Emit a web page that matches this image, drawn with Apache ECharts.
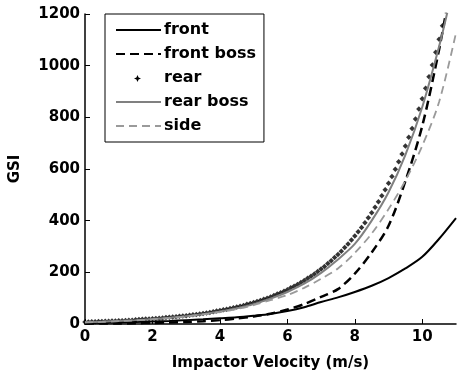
<!DOCTYPE html>
<html>
<head>
<meta charset="utf-8">
<script src="https://cdn.jsdelivr.net/npm/echarts@6/dist/echarts.min.js"></script>
<style>
  html, body { margin: 0; padding: 0; background: #fff; }
  #chart { width: 458px; height: 376px; }
</style>
</head>
<body>
<div id="chart"></div>
<script>
// velocity samples for the line curves (m/s)
const velocity = [0, 0.5, 1, 1.5, 2, 2.5, 3, 3.5, 4, 4.5, 5, 5.5, 6, 6.5, 7, 7.5, 8, 8.5, 9, 9.5, 10, 10.5, 11]
const velocityBoss = [0, 0.5, 1, 1.5, 2, 2.5, 3, 3.5, 4, 4.5, 5, 5.5, 6, 6.5, 7, 7.5, 8, 8.5, 9, 9.5, 10, 10.5, 10.75]

const front = [4, 5, 6, 8, 10, 12, 15, 18, 22, 26, 32, 39, 50, 65, 85, 103, 124, 148, 178, 215, 260, 330, 410]
const frontBoss = [1, 2, 2, 3, 4, 6, 8, 11, 15, 21, 29, 40, 56, 77, 105, 135, 195, 277, 380, 553, 767, 1063, 1240]
const rearBoss = [7, 9, 12, 15, 19, 24, 30, 38, 48, 61, 77, 98, 124, 156, 198, 250, 310, 400, 510, 655, 840, 1075, 1210]
const side = [6, 8, 11, 14, 18, 23, 29, 37, 46, 58, 73, 92, 112, 140, 175, 215, 275, 350, 445, 555, 690, 860, 1127]

// rear is drawn as dots, one every 0.1 m/s from 0 up to 10.6
const rearStep = 0.1
const rear = [
  8, 8, 9, 9, 10, 10, 11, 11, 12, 12,
  13, 13, 14, 15, 15, 16, 17, 18, 19, 19,
  20, 21, 22, 23, 25, 26, 27, 28, 30, 31,
  32, 34, 36, 37, 39, 41, 43, 45, 47, 50,
  52, 55, 57, 60, 63, 66, 69, 72, 76, 79,
  83, 87, 91, 96, 100, 105, 110, 116, 121, 127,
  133, 140, 146, 153, 161, 168, 177, 185, 194, 203,
  213, 223, 234, 245, 257, 269, 282, 296, 310, 325,
  341, 357, 374, 392, 411, 431, 452, 473, 496, 520,
  545, 571, 599, 628, 658, 689, 723, 757, 794, 832,
  872, 913, 957, 1003, 1052, 1102, 1155
]

const xTicks = [0, 2, 4, 6, 8, 10]
const yTicks = [0, 200, 400, 600, 800, 1000, 1200]

const FONT = 'DejaVu Sans'
const labelFont = { fontFamily: FONT, fontWeight: 'bold', fontSize: 15, color: '#000' }

const pairs = (xs, ys) => ys.map((y, i) => [xs[i], y])

// small star marker for the "rear" legend row (legend would stretch the symbol)
const mx = 137.5, my = 78.5, r = 3.5, q = 1.1
const rearMark = [[mx, my - r], [mx + q, my - q], [mx + r, my], [mx + q, my + q],
                  [mx, my + r], [mx - q, my + q], [mx - r, my], [mx - q, my - q]]

const chart = echarts.init(document.getElementById('chart'))

chart.setOption({
  animation: false,
  backgroundColor: '#fff',
  grid: { left: 82, top: 14, width: 374, height: 312, containLabel: false },
  legend: {
    orient: 'vertical',
    left: 105,
    top: 14,
    padding: [8, 8, 8, 10],
    itemWidth: 45,
    itemHeight: 14,
    itemGap: 8,
    borderColor: '#000',
    borderWidth: 1,
    // hide the marker drawn on line icons, keep only the line
    itemStyle: { opacity: 0 },
    textStyle: { fontFamily: FONT, fontWeight: 'bold', fontSize: 16, color: '#000', padding: [0, 0, 0, -2] },
    data: ['front', 'front boss', 'rear', 'rear boss', 'side']
  },
  graphic: [
    { type: 'polygon', z: 100, shape: { points: rearMark }, style: { fill: '#000' } }
  ],
  xAxis: {
    type: 'value',
    min: 0,
    max: 11,
    name: 'Impactor Velocity (m/s)',
    nameLocation: 'middle',
    nameGap: 32,
    nameTextStyle: labelFont,
    axisLine: { lineStyle: { color: '#000', width: 1.5 } },
    axisTick: { inside: true, length: 5, lineStyle: { color: '#000' }, customValues: xTicks },
    axisLabel: Object.assign({ margin: 6, customValues: xTicks }, labelFont),
    splitLine: { show: false }
  },
  yAxis: {
    type: 'value',
    min: 0,
    max: 1200,
    interval: 200,
    name: 'GSI',
    nameLocation: 'middle',
    nameGap: 62,
    nameTextStyle: labelFont,
    axisLine: { show: true, lineStyle: { color: '#000', width: 1.5 } },
    axisTick: { show: true, inside: true, length: 5, lineStyle: { color: '#000' }, customValues: yTicks },
    axisLabel: Object.assign({ margin: 5, customValues: yTicks, formatter: v => String(v) }, labelFont),
    splitLine: { show: false }
  },
  series: [
    {
      name: 'front',
      type: 'line',
      data: pairs(velocity, front),
      smooth: 0.3,
      symbol: 'none',
      itemStyle: { color: '#000' },
      lineStyle: { color: '#000', width: 2 }
    },
    {
      name: 'front boss',
      type: 'line',
      data: pairs(velocityBoss, frontBoss),
      smooth: 0.3,
      symbol: 'none',
      itemStyle: { color: '#000' },
      lineStyle: { color: '#000', width: 2.5, type: [9, 5] }
    },
    {
      name: 'rear',
      type: 'scatter',
      data: rear.map((y, i) => [i * rearStep, y]),
      symbol: 'diamond',
      symbolSize: 5.5,
      itemStyle: { color: '#000' }
    },
    {
      name: 'rear boss',
      type: 'line',
      data: pairs(velocityBoss, rearBoss),
      smooth: 0.3,
      symbol: 'none',
      itemStyle: { color: '#808080' },
      lineStyle: { color: '#808080', width: 2 }
    },
    {
      name: 'side',
      type: 'line',
      data: pairs(velocity, side),
      smooth: 0.3,
      symbol: 'none',
      itemStyle: { color: '#9a9a9a' },
      lineStyle: { color: '#9a9a9a', width: 1.8, type: [8, 5] }
    }
  ]
})

window.addEventListener('resize', () => chart.resize())
</script>
</body>
</html>
